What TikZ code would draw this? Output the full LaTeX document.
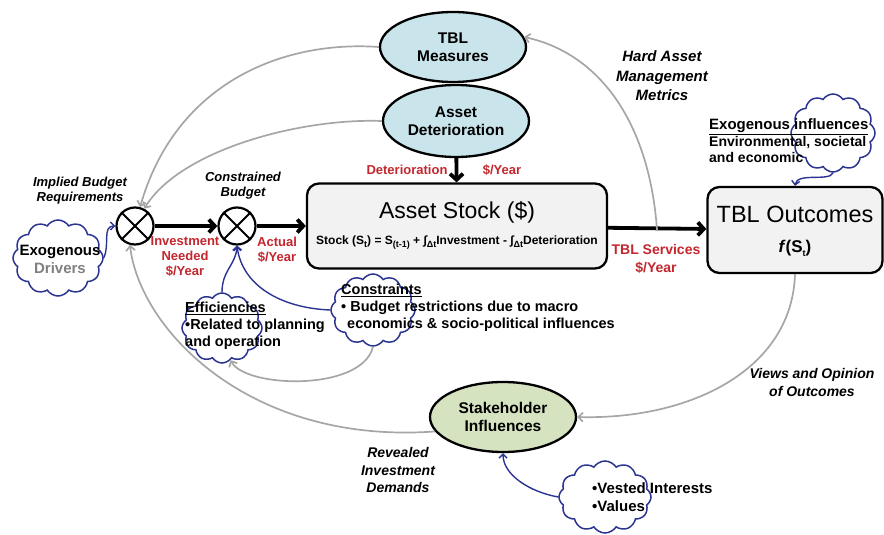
\documentclass[tikz,border=0pt]{standalone}
\usepackage{fontspec}
\setmainfont{Liberation Sans}
\usetikzlibrary{shapes.symbols,shapes.geometric,arrows.meta}
\definecolor{navy}{HTML}{2B3591}
\definecolor{lblue}{HTML}{C9E4EA}
\definecolor{lgreen}{HTML}{D5E3C0}
\definecolor{boxgray}{HTML}{F2F2F2}
\definecolor{redlab}{HTML}{C4262E}
\definecolor{arrgray}{HTML}{A6A6A6}
\newcommand{\fsz}[2]{\fontsize{#1}{#2}\selectfont}
\newcommand{\lowsub}[1]{\raisebox{-0.45ex}{\fontsize{9}{9}\selectfont #1}}
\begin{document}
\begin{tikzpicture}[x=1pt,y=-1pt,
  ell/.style={ellipse,draw,line width=2.3pt,minimum width=146pt,minimum height=70pt,inner sep=0pt,align=center,font=\fsz{15.5}{18.5}\bfseries},
  bigbox/.style={draw,line width=2.3pt,rounded corners=12pt,fill=boxgray},
  otimesnode/.style={circle,draw,line width=2.2pt,minimum size=37pt,inner sep=0pt,fill=white},
  thickarr/.style={line width=3.8pt,-{Straight Barb[length=6pt,width=13pt]}},
  grayarr/.style={draw=arrgray,line width=1.7pt,-{Straight Barb[length=4.5pt,width=9pt]}},
  bluearr/.style={draw=navy,line width=1.4pt,-{Straight Barb[length=4pt,width=8pt]}},
  cloudnode/.style={cloud,cloud puffs=12,cloud puff arc=115,draw=navy,line width=1.5pt,fill=white,inner sep=0pt},
  redlabel/.style={text=redlab,font=\fsz{13}{15}\bfseries,align=center,inner sep=0pt},
  itlabel/.style={font=\fsz{13}{15}\bfseries\itshape,align=center,inner sep=0pt},
  txt/.style={font=\fsz{14.5}{17}\bfseries,align=left,inner sep=0pt}
]
\useasboundingbox (0,0) rectangle (884,535);

% ellipses
\node[ell,fill=lblue] (tblm) at (453,47) {TBL\\Measures};
\node[ell,fill=lblue,minimum height=72pt] (ad) at (456,121) {Asset\\Deterioration};
\node[ell,fill=lgreen] (stake) at (503,417) {Stakeholder\\Influences};

% boxes
\node[bigbox,minimum width=300pt,minimum height=85pt] (as) at (457,226) {};
\node[inner sep=0pt,font=\fsz{23}{26}] (astitle) at (457,212) {Asset Stock (\$)};
\node[inner sep=0pt,font=\fsz{12}{14}\bfseries] (asform) at (457,243) {Stock (S\lowsub{t}) = S\lowsub{(t-1)} + ∫\lowsub{Δt}Investment - ∫\lowsub{Δt}Deterioration};
\node[bigbox,minimum width=175pt,minimum height=86pt] (tbo) at (795,230) {};
\node[inner sep=0pt,font=\fsz{23.5}{26}] (tbotitle) at (795,214) {TBL Outcomes};
\node[inner sep=0pt,font=\fsz{17}{20}\bfseries] (tbof) at (795,248) {\textit{f}(S\lowsub{t})};

% multiplier circles
\node[otimesnode] (c1) at (135,226) {};
\draw[line width=2pt] (c1.45) -- (c1.225) (c1.135) -- (c1.315);
\node[otimesnode] (c2) at (237,226) {};
\draw[line width=2pt] (c2.45) -- (c2.225) (c2.135) -- (c2.315);

% clouds
\node[cloudnode,minimum width=90pt,minimum height=76pt] (exd) at (58,258) {};
\node[cloudnode,minimum width=80pt,minimum height=70pt] (eff) at (222,328) {};
\node[cloudnode,minimum width=84pt,minimum height=72pt] (con) at (373,310) {};
\node[cloudnode,minimum width=84pt,minimum height=78pt] (exi) at (833,133) {};
\node[cloudnode,minimum width=92pt,minimum height=72pt] (vest) at (605,497) {};

% main flow arrows
\draw[thickarr] (c1) -- (c2);
\draw[thickarr] (c2) -- (as);
\draw[thickarr] (ad) -- (as);
\draw[thickarr] (as) -- (tbo);
\coordinate (hs) at (657,230);

% grey feedback arrows
\draw[grayarr] (tblm.west) .. controls (280,40) and (175,85) .. (c1.75);
\draw[grayarr] (ad.west) .. controls (300,118) and (180,150) .. (c1.62);
\draw[grayarr] (hs) .. controls (650,130) and (605,55) .. (tblm.8);
\draw[grayarr] (tbo.south) .. controls (792,370) and (690,420) .. (stake.east);
\draw[grayarr] (stake.192) .. controls (250,445) and (140,330) .. (c1.255);
\draw[grayarr] (con.south) .. controls (362,392) and (245,388) .. (eff.-75);

% blue influence arrows
\draw[bluearr] (exd.east) .. controls (110,245) and (102,226) .. (c1.west);
\draw[bluearr] (eff.north) .. controls (222,270) and (236,265) .. (c2.south);
\draw[bluearr] (con.west) .. controls (280,308) and (242,285) .. (c2.south);
\draw[bluearr] (exi.south) .. controls (830,182) and (797,172) .. (tbo.north);
\draw[bluearr] (vest.west) .. controls (530,492) and (503,475) .. (stake.south);

% red flow labels
\node[redlabel] (ldet) at (407,170) {Deterioration};
\node[redlabel] (ldety) at (502,170) {\$/Year};
\node[redlabel] (linv) at (185,257) {Investment\\Needed\\\$/Year};
\node[redlabel] (lact) at (277,250) {Actual\\\$/Year};
\node[redlabel,font=\fsz{14}{18}\bfseries] (lsrv) at (656,259) {TBL Services\\\$/Year};

% italic labels
\node[itlabel] (limp) at (80,191) {Implied Budget\\Requirements};
\node[itlabel] (lcon) at (243,186) {Constrained\\Budget};
\node[itlabel,font=\fsz{15}{19.5}\bfseries\itshape] (lhard) at (662,76) {Hard Asset\\Management\\Metrics};
\node[itlabel,font=\fsz{14}{18}\bfseries\itshape] (lview) at (812,382) {Views and Opinion\\of Outcomes};
\node[itlabel,font=\fsz{14}{17.5}\bfseries\itshape] (lrev) at (398,470) {Revealed\\Investment\\Demands};

% cloud texts
\node[txt,font=\fsz{15}{18}\bfseries,align=center] (texd) at (60,259) {Exogenous\\\textcolor{gray}{Drivers}};
\node[txt,anchor=west] (teff) at (185,326) {\underline{Efficiencies}\\•Related to planning\\and operation};
\node[txt,anchor=west,font=\fsz{14.5}{16.8}\bfseries] (tcon) at (341,308) {\underline{Constraints}\\• Budget restrictions due to macro\\\hspace*{6pt}economics \& socio-political influences};
\node[txt,anchor=west,font=\fsz{14}{16.5}\bfseries] (texi) at (709,141) {\fsz{15}{16.5}\underline{Exogenous influences}\\Environmental, societal\\and economic};
\node[txt,anchor=west,font=\fsz{15}{18}\bfseries] (tvest) at (592,497) {•Vested Interests\\•Values};
\end{tikzpicture}
\end{document}
